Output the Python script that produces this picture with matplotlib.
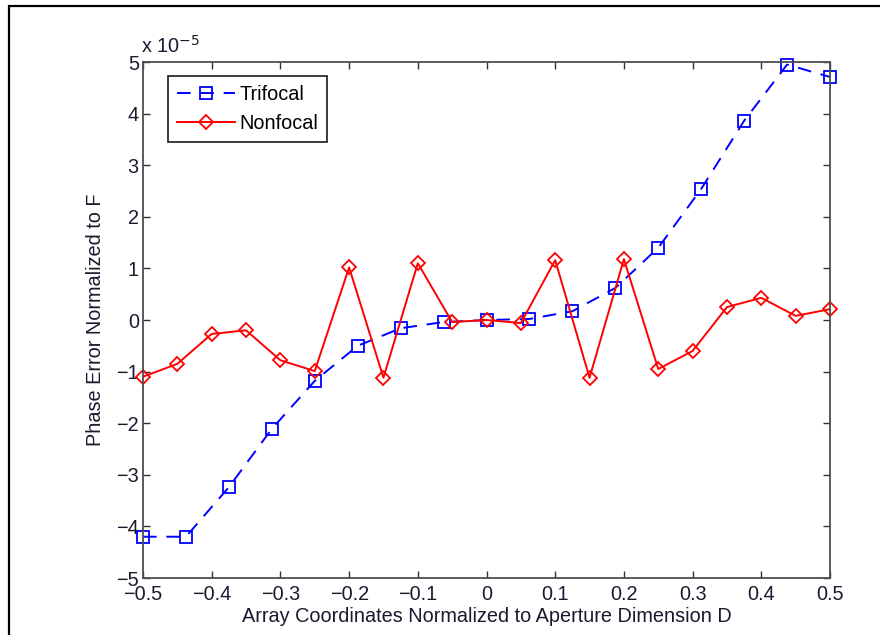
import matplotlib
matplotlib.use('Agg')
from matplotlib import pyplot as plt
from matplotlib.patches import Rectangle

plt.rcParams['font.family'] = ['Liberation Sans', 'DejaVu Sans']
plt.rcParams['axes.unicode_minus'] = True

# Data (values in units of 1e-5)
x_tri = [-0.5, -0.4375, -0.375, -0.3125, -0.25, -0.1875, -0.125, -0.0625, 0.0,
         0.0625, 0.125, 0.1875, 0.25, 0.3125, 0.375, 0.4375, 0.5]
y_tri = [-4.2, -4.2, -3.24, -2.11, -1.18, -0.5, -0.16, -0.04, 0.0,
         0.02, 0.17, 0.62, 1.4, 2.54, 3.86, 4.95, 4.71]

x_non = [-0.5, -0.45, -0.4, -0.35, -0.3, -0.25, -0.2, -0.15, -0.1, -0.05, 0.0,
         0.05, 0.1, 0.15, 0.2, 0.25, 0.3, 0.35, 0.4, 0.45, 0.5]
y_non = [-1.1, -0.85, -0.27, -0.2, -0.78, -0.99, 1.02, -1.12, 1.1, -0.04, 0.0,
         -0.06, 1.16, -1.12, 1.18, -0.95, -0.6, 0.25, 0.43, 0.08, 0.21]

xticks = [-0.5, -0.4, -0.3, -0.2, -0.1, 0, 0.1, 0.2, 0.3, 0.4, 0.5]
xticklabels = ['-0.5', '-0.4', '-0.3', '-0.2', '-0.1', '0', '0.1', '0.2', '0.3', '0.4', '0.5']
yticks = [-5, -4, -3, -2, -1, 0, 1, 2, 3, 4, 5]

fs = 14.3
fig = plt.figure(figsize=(8.8, 6.35), dpi=100)
ax = fig.add_axes([143/880, 1-578/635, (830-143)/880, (578-62)/635])

ax.plot(x_tri, y_tri, color='#0000ff', ls=(0, (7, 5)), lw=1.4, marker='s', ms=9,
        mfc='none', mec='#0000ff', mew=1.3, label='Trifocal', clip_on=False)
ax.plot(x_non, y_non, color='#ff0000', ls='-', lw=1.4, marker='D', ms=7.5,
        mfc='none', mec='#ff0000', mew=1.3, label='Nonfocal', clip_on=False)

ax.set_xlim(-0.5, 0.5)
ax.set_ylim(-5, 5)
ax.set_xticks(xticks)
ax.set_xticklabels([l.replace('-', '\u2212') for l in xticklabels])
ax.set_yticks(yticks)
ax.set_yticklabels([str(v).replace('-', '\u2212') for v in yticks])
ax.tick_params(direction='in', length=5, width=1, top=True, right=True,
               labelsize=fs, colors='0.2', labelcolor='#1a1a2e')
ax.tick_params(axis='x', pad=5)
ax.tick_params(axis='y', pad=3)
for s in ax.spines.values():
    s.set_color('0.3')
    s.set_linewidth(1.3)

ax.set_xlabel('Array Coordinates Normalized to Aperture Dimension D', fontsize=fs,
              color='#1a1a2e', labelpad=2)
ax.set_ylabel('Phase Error Normalized to F', fontsize=fs, color='#1a1a2e', labelpad=8)

fig.text(141/880, 1-46/635, r'x 10$^{-5}$', fontsize=fs, color='#1a1a2e',
         ha='left', va='center')

leg = ax.legend(loc='upper left', bbox_to_anchor=(25/687, 1-14/516), fontsize=fs,
                frameon=True, fancybox=False, edgecolor='0.1', framealpha=1,
                handlelength=2.9, handletextpad=0.25, borderpad=0.45,
                labelspacing=0.5, borderaxespad=0)
leg.get_frame().set_linewidth(1.2)

# outer frame
fig.add_artist(Rectangle((9/880, -0.1), 1.2, 1.1 - 6/635, transform=fig.transFigure,
                         fill=False, edgecolor='black', lw=1.6))

fig.savefig('out.png', dpi=100)
